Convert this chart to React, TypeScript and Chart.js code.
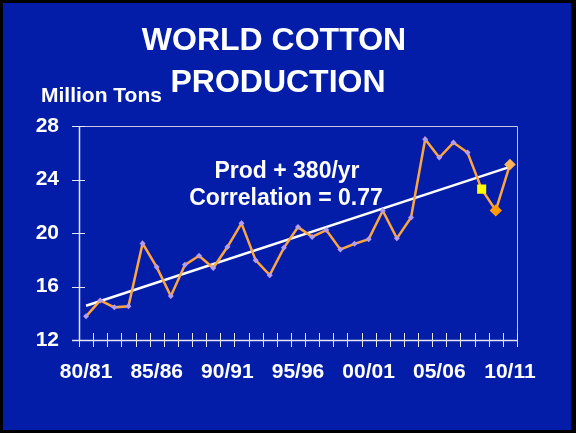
import React, { useEffect, useRef } from 'react';
import { Chart, registerables } from 'chart.js';

Chart.register(...registerables);

const seasons = [
  '80/81', '81/82', '82/83', '83/84', '84/85', '85/86', '86/87', '87/88', '88/89', '89/90',
  '90/91', '91/92', '92/93', '93/94', '94/95', '95/96', '96/97', '97/98', '98/99', '99/00',
  '00/01', '01/02', '02/03', '03/04', '04/05', '05/06', '06/07', '07/08', '08/09', '09/10',
  '10/11',
];
const production = [
  13.77, 14.96, 14.44, 14.52, 19.22, 17.45, 15.29, 17.62, 18.3, 17.38,
  18.95, 20.72, 17.97, 16.85, 18.89, 20.44, 19.71, 20.22, 18.77, 19.19,
  19.54, 21.66, 19.6, 21.16, 27.01, 25.64, 26.76, 26.02, 23.28, 21.69,
  25.12,
];
const trendStart = 14.56;
const trendEnd = 24.94;
const shownLabels = ['80/81', '85/86', '90/91', '95/96', '00/01', '05/06', '10/11'];
const yMin = 12;
const yMax = 28;
const yStep = 4;
const titleLines = ['WORLD COTTON', 'PRODUCTION'];
const unitLabel = 'Million Tons';
const noteLines = ['Prod + 380/yr', 'Correlation = 0.77'];

const FONT = "'Liberation Sans', Arial, Helvetica, sans-serif";
const BLUE = '#031DA8';
const AXIS = '#E4E6F4';
const FRAME = '#C4C8E6';

const n = production.length;
const pointStyles = production.map((_, i) => (i === n - 3 ? 'rect' : 'rectRot'));
const pointRadii = production.map((_, i) => (i === n - 3 ? 6.4 : i === n - 2 ? 6.2 : i === n - 1 ? 5.8 : 3));
const pointColors = production.map((_, i) =>
  i === n - 3 ? '#FFFF00' : i === n - 2 ? '#FF9A00' : i === n - 1 ? '#FFB45A' : '#B49CF0'
);

const decorPlugin = {
  id: 'decor',
  beforeDraw(chart: any) {
    const { ctx, width, height } = chart;
    ctx.save();
    ctx.fillStyle = '#000000';
    ctx.fillRect(0, 0, width, height);
    ctx.fillStyle = BLUE;
    ctx.fillRect(3, 3, 568, 427);
    ctx.restore();
  },
  beforeDatasetsDraw(chart: any) {
    const { ctx, chartArea } = chart;
    const { left, right, top, bottom } = chartArea;
    const xs = chart.scales.x;
    const ys = chart.scales.y;
    ctx.save();
    ctx.strokeStyle = FRAME;
    ctx.lineWidth = 1;
    ctx.beginPath();
    ctx.moveTo(left, Math.round(top) + 0.5);
    ctx.lineTo(Math.round(right) + 0.5, Math.round(top) + 0.5);
    ctx.lineTo(Math.round(right) + 0.5, bottom);
    ctx.stroke();
    ctx.strokeStyle = AXIS;
    ctx.lineWidth = 1.5;
    ctx.beginPath();
    ctx.moveTo(Math.round(left) + 0.5, top);
    ctx.lineTo(Math.round(left) + 0.5, bottom);
    ctx.moveTo(left - 7, Math.round(bottom) + 0.5);
    ctx.lineTo(Math.round(right) + 0.5, Math.round(bottom) + 0.5);
    ctx.stroke();
    ctx.lineWidth = 1;
    ctx.beginPath();
    ys.ticks.forEach((t: any) => {
      const y = Math.round(ys.getPixelForValue(t.value)) + 0.5;
      ctx.moveTo(left - 7, y);
      ctx.lineTo(left + 6, y);
    });
    for (let i = 0; i <= n; i++) {
      const x = Math.round(xs.getPixelForValue(i - 0.5)) + 0.5;
      ctx.moveTo(x, bottom - 7);
      ctx.lineTo(x, bottom + 7);
    }
    ctx.stroke();
    ctx.restore();
  },
  afterDraw(chart: any) {
    const { ctx } = chart;
    ctx.save();
    ctx.fillStyle = '#FFFFFF';
    ctx.textBaseline = 'alphabetic';
    ctx.textAlign = 'center';
    ctx.font = `bold 32px ${FONT}`;
    ctx.fillText(titleLines[0], 274, 50);
    ctx.fillText(titleLines[1], 278, 92);
    ctx.textAlign = 'left';
    ctx.font = `bold 21px ${FONT}`;
    ctx.fillText(unitLabel, 41, 102);
    ctx.textAlign = 'center';
    ctx.font = `bold 23px ${FONT}`;
    ctx.fillText(noteLines[0], 287, 178);
    ctx.fillText(noteLines[1], 286, 205);
    ctx.restore();
  },
};

export default function App() {
  const ref = useRef<HTMLCanvasElement | null>(null);

  useEffect(() => {
    if (!ref.current) return;
    const chart = new Chart(ref.current, {
      type: 'line',
      data: {
        labels: seasons,
        datasets: [
          {
            label: 'Production',
            data: production,
            borderColor: '#FFA540',
            borderWidth: 2.5,
            tension: 0,
            pointStyle: pointStyles as any,
            pointRadius: pointRadii,
            pointBackgroundColor: pointColors,
            pointBorderColor: pointColors,
            pointBorderWidth: 0,
            order: 1,
          },
          {
            label: 'Trend',
            data: [
              { x: seasons[0], y: trendStart },
              { x: seasons[n - 1], y: trendEnd },
            ] as any,
            borderColor: '#FFFFFF',
            borderWidth: 2.5,
            pointRadius: 0,
            tension: 0,
            order: 2,
          },
        ],
      },
      options: {
        animation: false,
        responsive: false,
        devicePixelRatio: 1,
        layout: { padding: { left: 0, top: 126, right: 59, bottom: 0 } },
        plugins: {
          legend: { display: false },
          tooltip: { enabled: false },
          title: { display: false },
        },
        scales: {
          x: {
            type: 'category',
            offset: true,
            grid: { display: false, drawTicks: false },
            border: { display: false },
            ticks: {
              autoSkip: false,
              maxRotation: 0,
              minRotation: 0,
              padding: 20,
              color: '#FFFFFF',
              font: { family: FONT, size: 21, weight: 'bold' },
              callback: (_v: any, i: number) => (shownLabels.includes(seasons[i]) ? seasons[i] : ''),
            },
            afterFit: (s: any) => {
              s.height = 93;
            },
          },
          y: {
            min: yMin,
            max: yMax,
            grid: { display: false, drawTicks: false },
            border: { display: false },
            ticks: {
              stepSize: yStep,
              padding: 20,
              color: '#FFFFFF',
              font: { family: FONT, size: 21, weight: 'bold' },
            },
            afterFit: (s: any) => {
              s.width = 79;
            },
          },
        },
      },
      plugins: [decorPlugin],
    });
    return () => chart.destroy();
  }, []);

  return (
    <div style={{ position: 'absolute', left: 0, top: 0, width: 576, height: 433 }}>
      <canvas ref={ref} width={576} height={433} style={{ display: 'block', width: 576, height: 433 }} />
    </div>
  );
}
